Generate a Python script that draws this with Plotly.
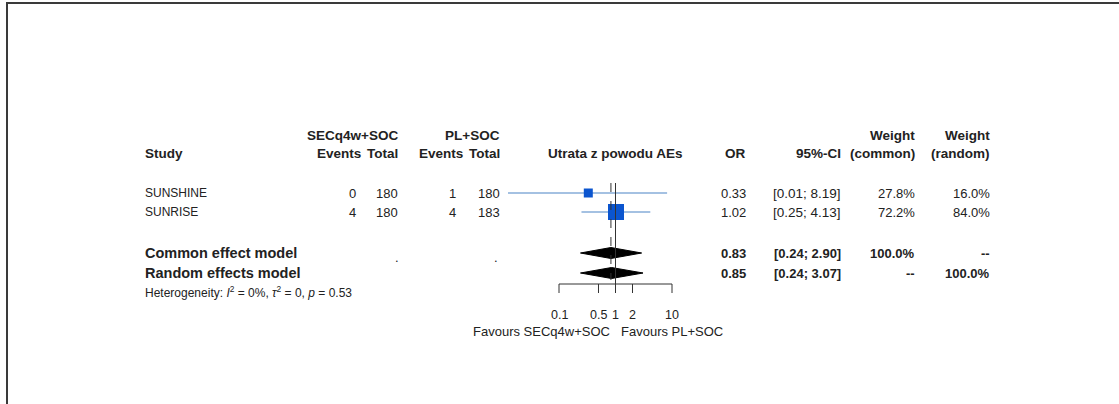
import plotly.graph_objects as go
import math

# ---------------- data ----------------
studies = ["SUNSHINE", "SUNRISE"]
ev_trt = [0, 4]
n_trt = [180, 180]
ev_ctl = [1, 4]
n_ctl = [180, 183]
or_est = [0.33, 1.02]
ci_lo = [0.01, 0.25]
ci_hi = [8.19, 4.13]
w_common = ["27.8%", "72.2%"]
w_random = ["16.0%", "84.0%"]

models = ["Common effect model", "Random effects model"]
model_est = [0.83, 0.85]
model_lo = [0.24, 0.24]
model_hi = [2.90, 3.07]
model_wc = ["100.0%", "--"]
model_wr = ["--", "100.0%"]

tick_vals = [0.1, 0.5, 1, 2, 10]
tick_text = ["0.1", "0.5", "1", "2", "10"]

W, H = 1119, 404
FONT = "Liberation Sans, Arial, sans-serif"
TXT = "#222222"

fig = go.Figure()

def px(x):
    return x / W

def lx(v):
    return math.log10(v)

ann = []
def text(x, y, s, anchor="left", size=12, bold=False, color=TXT, xref="paper"):
    if bold:
        s = "<b>" + s + "</b>"
    ann.append(dict(x=px(x) if xref == "paper" else lx(x), y=y, xref=xref, yref="y",
                    text=s, showarrow=False, xanchor=anchor, yanchor="middle",
                    font=dict(family=FONT, size=size, color=color)))

HS = 13.5   # header
LS = 12     # study labels
NS = 13     # numbers
# header rows
yh1, yh2 = 135, 153
text(400, yh1, "SECq4w+SOC", "right", size=HS, bold=True)
text(502, yh1, "PL+SOC", "right", size=HS, bold=True)
text(917, yh1, "Weight", "right", size=HS, bold=True)
text(992, yh1, "Weight", "right", size=HS, bold=True)
text(143, yh2, "Study", "left", size=HS, bold=True)
text(363, yh2, "Events", "right", size=HS, bold=True)
text(400, yh2, "Total", "right", size=HS, bold=True)
text(465, yh2, "Events", "right", size=HS, bold=True)
text(502, yh2, "Total", "right", size=HS, bold=True)
text(1, yh2, "Utrata z powodu AEs", "center", size=HS, bold=True, xref="x")
text(748, yh2, "OR", "right", size=HS, bold=True)
text(843, yh2, "95%-CI", "right", size=HS, bold=True)
text(917, yh2, "(common)", "right", size=HS, bold=True)
text(992, yh2, "(random)", "right", size=HS, bold=True)

# study rows
row_y = [193, 212]
for i, s in enumerate(studies):
    y = row_y[i]
    text(143, y, s, size=LS)
    text(358, y, str(ev_trt[i]), "right", size=NS)
    text(400, y, str(n_trt[i]), "right", size=NS)
    text(458, y, str(ev_ctl[i]), "right", size=NS)
    text(502, y, str(n_ctl[i]), "right", size=NS)
    text(748, y, f"{or_est[i]:.2f}", "right", size=NS)
    text(843, y, f"[{ci_lo[i]:.2f}; {ci_hi[i]:.2f}]", "right", size=13.5)
    text(917, y, w_common[i], "right", size=NS)
    text(992, y, w_random[i], "right", size=NS)

# model rows
model_y = [253, 273]
for i, m in enumerate(models):
    y = model_y[i]
    text(143, y, m, bold=True, size=14.5)
    text(748, y, f"{model_est[i]:.2f}", "right", size=13, bold=True)
    text(843, y, f"[{model_lo[i]:.2f}; {model_hi[i]:.2f}]", "right", size=13, bold=True)
    text(917, y, model_wc[i], "right", size=13, bold=True)
    text(992, y, model_wr[i], "right", size=13, bold=True)
text(401, model_y[0] + 4, ".", "right", size=NS)
text(500, model_y[0] + 4, ".", "right", size=NS)
text(143, 292, "Heterogeneity: <i>I</i><sup>2</sup> = 0%, <i>τ</i><sup>2</sup> = 0, <i>p</i> = 0.53", size=12)

# vertical reference lines
shapes = []
shapes.append(dict(type="line", xref="x", yref="y", x0=1, x1=1, y0=183, y1=284,
                   line=dict(color="#333333", width=1)))
shapes.append(dict(type="line", xref="x", yref="y", x0=model_est[0], x1=model_est[0], y0=183, y1=280,
                   line=dict(color="#333333", width=1, dash="dash")))

# CI lines (clip lower at plot limit)
xmin_plot = 0.0125
for i in range(len(studies)):
    lo = max(ci_lo[i], xmin_plot)
    fig.add_trace(go.Scatter(x=[lo, ci_hi[i]], y=[row_y[i], row_y[i]], mode="lines",
                             line=dict(color="#86acd9", width=1.3), hoverinfo="skip"))
# squares by weight
sizes = [9, 16]
fig.add_trace(go.Scatter(x=or_est, y=row_y, mode="markers",
                         marker=dict(symbol="square", size=sizes, color="#0b55cf", opacity=1,
                                     line=dict(width=0)), hoverinfo="skip"))

# diamonds
for i in range(len(models)):
    y = model_y[i]
    h = 5.5
    fig.add_trace(go.Scatter(x=[model_lo[i], model_est[i], model_hi[i], model_est[i], model_lo[i]],
                             y=[y, y - h, y, y + h, y], mode="lines", fill="toself",
                             fillcolor="black", line=dict(color="black", width=1), hoverinfo="skip"))

# axis
yax = 284
shapes.append(dict(type="line", xref="x", yref="y", x0=tick_vals[0], x1=tick_vals[-1], y0=yax, y1=yax,
                   line=dict(color="#333333", width=1)))
for tv, tt in zip(tick_vals, tick_text):
    shapes.append(dict(type="line", xref="x", yref="y", x0=tv, x1=tv, y0=yax, y1=yax + 9,
                       line=dict(color="#333333", width=1)))
    text(tv, 315, tt, "center", size=12.5, xref="x")
text(0.87, 331, "Favours SECq4w+SOC", "right", size=13, xref="x")
text(1.17, 331, "Favours PL+SOC", "left", size=13, xref="x")

# border
shapes.append(dict(type="line", xref="paper", yref="paper", x0=px(7), x1=px(7), y0=0, y1=1 - 2 / H,
                   line=dict(color="#3a3a3a", width=2)))
shapes.append(dict(type="line", xref="paper", yref="paper", x0=px(6), x1=1, y0=1 - 3 / H, y1=1 - 3 / H,
                   line=dict(color="#3a3a3a", width=2)))

# x axis: log, 0.1 at 559 px, 10 at 672 px
dec = 113 / 2.0
r0 = -1 - 559 / dec
r1 = -1 + (W - 559) / dec
fig.update_layout(
    width=W, height=H, margin=dict(l=0, r=0, t=0, b=0),
    paper_bgcolor="white", plot_bgcolor="white", showlegend=False,
    xaxis=dict(type="log", range=[r0, r1], visible=False, domain=[0, 1]),
    yaxis=dict(range=[H, 0], visible=False, domain=[0, 1]),
    annotations=ann, shapes=shapes,
)
fig.write_html("out.html", config={"displayModeBar": False},
               post_script="document.body.style.margin='0px';")
